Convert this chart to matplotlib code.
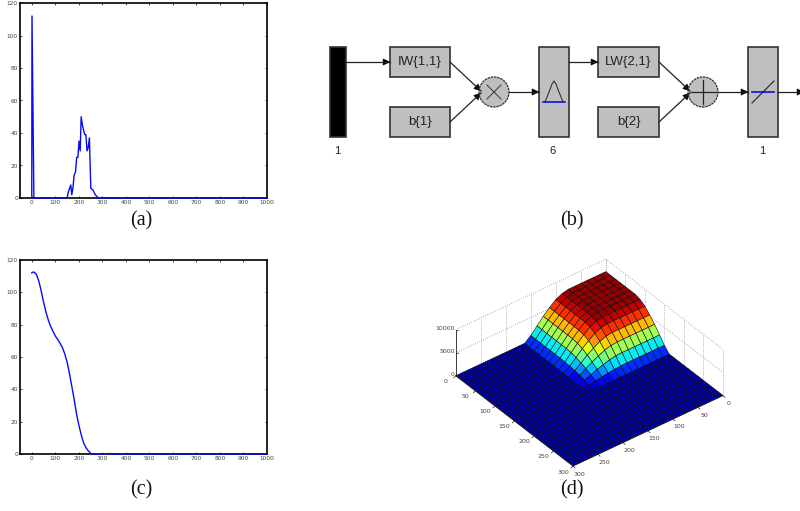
import numpy as np
import matplotlib
matplotlib.use('Agg')
import matplotlib.pyplot as plt
from matplotlib.patches import Rectangle, Circle, Polygon
from mpl_toolkits.mplot3d import proj3d

W, H = 800, 511

# panel (a): output of the first layer
a_x = [0, 1, 9, 150, 156, 166, 170, 175, 180, 186, 191, 196, 201, 206, 210, 215, 220, 225, 230, 235, 240, 245, 251, 260, 270, 283, 1000]
a_y = [0, 112, 0, 0, 4, 8, 2, 6, 14, 16, 25, 25, 35, 29, 50, 45, 42, 39, 39, 29, 31, 37, 6, 5, 2, 0, 0]

# panel (c): smoothed output
c_x = [0, 5, 10, 20, 30, 40, 50, 60, 70, 80, 90, 100, 110, 120, 130, 140, 150, 160, 170, 180, 190, 200, 210, 220, 230, 240, 250, 255, 300, 330, 360, 1000]
c_y = [112, 112.5, 112.5, 111, 107, 101, 94, 88, 83, 79, 76, 73, 71, 68.5, 66, 62, 57, 50, 42, 34, 25, 18, 12, 7, 4, 2, 0.5, 0, 0, 0.3, 0, 0]

tick_x = [0, 100, 200, 300, 400, 500, 600, 700, 800, 900, 1000]
tick_y = [0, 20, 40, 60, 80, 100, 120]

# panel (d): surface heights near the (0, 0) corner, the rest of the grid is zero
surf_step = 12.5
surf_n = 25
bump = [
    [7300, 7300, 7300, 7300, 7300, 7300, 7300, 7000, 6350, 5250, 4000, 2550, 1100, 0],
    [7300, 7300, 7300, 7300, 7300, 7300, 7300, 7000, 6350, 5250, 4000, 2550, 1100, 0],
    [7300, 7300, 7300, 7300, 7300, 7300, 7300, 7000, 6350, 5250, 4000, 2550, 1100, 0],
    [7300, 7300, 7300, 7300, 7300, 7300, 7300, 7000, 6350, 5250, 4000, 2550, 1100, 0],
    [7300, 7300, 7300, 7300, 7300, 7300, 7300, 7000, 6350, 5250, 4000, 2550, 1100, 0],
    [7300, 7300, 7300, 7300, 7300, 7300, 7300, 7000, 6350, 5250, 4000, 2550, 1100, 0],
    [7300, 7300, 7300, 7300, 7300, 7300, 7300, 7000, 6350, 5250, 4000, 2550, 1100, 0],
    [7000, 7000, 7000, 7000, 7000, 7000, 7000, 6700, 6100, 5050, 3850, 2450, 1050, 0],
    [6350, 6350, 6350, 6350, 6350, 6350, 6350, 6100, 5530, 4570, 3490, 2220, 950, 0],
    [5250, 5250, 5250, 5250, 5250, 5250, 5250, 5050, 4570, 3780, 2890, 1840, 790, 0],
    [4000, 4000, 4000, 4000, 4000, 4000, 4000, 3850, 3490, 2890, 2210, 1410, 600, 0],
    [2550, 2550, 2550, 2550, 2550, 2550, 2550, 2450, 2220, 1840, 1410, 890, 380, 0],
    [1100, 1100, 1100, 1100, 1100, 1100, 1100, 1050, 950, 790, 600, 380, 160, 0],
    [0, 0, 0, 0, 0, 0, 0, 0, 0, 0, 0, 0, 0, 0],
]
surf_ticks = [0, 50, 100, 150, 200, 250, 300]
z_ticks = [0, 5000, 10000]

# panel (b): blocks as left, top, width, height in pixels
wide_boxes = [(390, 47, 60, 30, 'IW{1,1}'), (390, 107, 60, 30, 'b{1}'),
              (598, 47, 61, 30, 'LW{2,1}'), (598, 107, 61, 30, 'b{2}')]
tall_boxes = [(539, 47, 30, 90), (748, 47, 30, 90)]
layer_sizes = [(337, '1'), (553, '6'), (762, '1')]
captions = [(141, 221, '(a)'), (572, 221, '(b)'), (141, 490, '(c)'), (572, 490, '(d)')]

GRAY = '#bfbfbf'
BLUE = '#0a0af0'
TICK = '#444444'

fig = plt.figure(figsize=(8, 5.11), dpi=100)


def px_axes(left, top, right, bottom, **kw):
    return fig.add_axes([left / W, 1 - bottom / H, (right - left) / W, (bottom - top) / H], **kw)


def line_panel(top, bottom, xs, ys):
    ax = px_axes(20, top, 267, bottom)
    ax.plot(xs, ys, color=BLUE, lw=1.0, clip_on=False, zorder=5)
    ax.set_xlim(-50, 1000)
    ax.set_ylim(0, 120)
    ax.set_xticks(tick_x)
    ax.set_yticks(tick_y)
    ax.tick_params(direction='in', length=1.5, width=0.5, labelsize=4.2, pad=1.5,
                   top=True, right=True, labelcolor=TICK)
    for sp in ax.spines.values():
        sp.set_linewidth(1.2)
    return ax


line_panel(3, 198, a_x, a_y)
line_panel(260, 454, c_x, c_y)

# panel (d), square axes centred on the middle of the box
ax3 = fig.add_axes([384 / W, 1 - 568 / H, 400 / W, 400 / H], projection='3d', computed_zorder=False)
ax3.set_proj_type('ortho')
ax3.view_init(elev=37, azim=52)
ax3.set_box_aspect((1, 1, 0.303), zoom=0.668)
ax3.set_axis_off()
ax3.patch.set_alpha(0)

grid = np.arange(surf_n) * surf_step
X, Y = np.meshgrid(grid, grid, indexing='ij')
Z = np.zeros((surf_n, surf_n))
Z[:len(bump), :len(bump)] = bump

ax3.set_xlim(0, 300)
ax3.set_ylim(0, 300)
ax3.set_zlim(0, 10000)

# dotted back walls
dot = dict(color='#999999', lw=0.6, ls=':', zorder=1)
for t in surf_ticks:
    ax3.plot([t, t], [0, 0], [0, 10000], **dot)
    ax3.plot([0, 0], [t, t], [0, 10000], **dot)
for zt in z_ticks:
    ax3.plot([0, 300], [0, 0], [zt, zt], **dot)
    ax3.plot([0, 0], [0, 300], [zt, zt], **dot)

jet = plt.get_cmap('jet')
colors = jet(0.025 + Z / 7300 * 0.955)
ax3.plot_surface(X, Y, Z, facecolors=colors, rstride=1, cstride=1, edgecolor='#0a0a14',
                 linewidth=0.4, shade=False, antialiased=True, zorder=2)

# axis lines of the surface
solid = dict(color='#222222', lw=0.6, zorder=3)
ax3.plot([300, 300], [0, 0], [0, 10000], **solid)
ax3.plot([300, 300], [0, 300], [0, 0], **solid)
ax3.plot([0, 300], [300, 300], [0, 0], **solid)

# overlay in pixel coordinates for the block diagram and captions
ov = px_axes(0, 0, W, H)
ov.set_xlim(0, W)
ov.set_ylim(H, 0)
ov.axis('off')
ov.patch.set_alpha(0)


def block(x, y, w, h, fc=GRAY):
    ov.add_patch(Rectangle((x, y), w, h, fc=fc, ec='#333333', lw=1.2))


def wire(x0, y0, x1, y1, head=True):
    ov.plot([x0, x1], [y0, y1], color='#222222', lw=0.9)
    if head:
        d = np.array([x1 - x0, y1 - y0], dtype=float)
        d /= np.hypot(*d)
        n = np.array([-d[1], d[0]])
        tip = np.array([x1, y1])
        ov.add_patch(Polygon([tip, tip - 7 * d + 3.2 * n, tip - 7 * d - 3.2 * n], fc='k', ec='k', lw=0.3))


block(330, 47, 16, 90, fc='black')
for x, y, w, h, label in wide_boxes:
    block(x, y, w, h)
    ov.text(x + w / 2, y + h / 2, label, ha='center', va='center', fontsize=9.5,
            family='Liberation Sans', color='#222222')
for x, y, w, h in tall_boxes:
    block(x, y, w, h)
for x, label in layer_sizes:
    ov.text(x, 151, label, ha='center', va='center', fontsize=8, family='Liberation Sans', color='#222222')

wire(346, 62, 390, 62)
wire(450, 62, 481, 91)
wire(450, 122, 481, 93)
wire(509, 92, 539, 92)
wire(569, 62, 598, 62)
wire(659, 62, 690, 91)
wire(659, 122, 690, 93)
wire(718, 92, 748, 92)
wire(778, 92, 804, 92)

for cx in (494, 703):
    ov.add_patch(Circle((cx, 92), 15, fc=GRAY, ec='#333333', lw=0.9, ls=(0, (2, 0.6))))
ov.plot([487, 501], [85, 99], color='#333333', lw=0.7)
ov.plot([487, 501], [99, 85], color='#333333', lw=0.7)
ov.plot([691, 716], [92, 92], color='#222222', lw=0.9)
ov.plot([703, 703], [80, 104], color='#222222', lw=0.9)

# radial basis and linear transfer icons
ov.plot([545, 549, 552, 554, 556, 559, 563], [102, 92, 84, 81, 84, 92, 102], color='#333333', lw=0.8)
ov.plot([543, 565], [102, 102], color='#0000e0', lw=1.1)
ov.plot([752, 774], [103, 81], color='#222222', lw=0.8)
ov.plot([752, 774], [92, 92], color='#0000e0', lw=1.1)

for x, y, label in captions:
    ov.text(x, y, label, ha='center', va='center', fontsize=14.5, family='Liberation Serif', color='#111111')

# tick labels of the surface go on the overlay, placed through the 3d projection
fig.canvas.draw()


def to_px(x, y, z):
    u, v, _ = proj3d.proj_transform(x, y, z, ax3.get_proj())
    return ov.transData.inverted().transform(ax3.transData.transform((u, v)))


tick_line = dict(color='#222222', lw=0.5)
for t in surf_ticks:
    px, py = to_px(t, 300, 0)
    ov.plot([px, px + 2], [py, py + 2], **tick_line)
    ov.text(px + 6, py + 8, str(t), ha='center', va='center', fontsize=4.5, color=TICK)
    px, py = to_px(300, t, 0)
    ov.plot([px, px - 2], [py, py + 2], **tick_line)
    ov.text(px - 10, py + 6, str(t), ha='center', va='center', fontsize=4.5, color=TICK)
for zt in z_ticks:
    px, py = to_px(300, 0, zt)
    ov.plot([px, px + 2], [py, py], **tick_line)
    ov.text(px - 1, py - 1, str(zt), ha='right', va='center', fontsize=4.5, color=TICK)

fig.savefig('out.png', dpi=100)
